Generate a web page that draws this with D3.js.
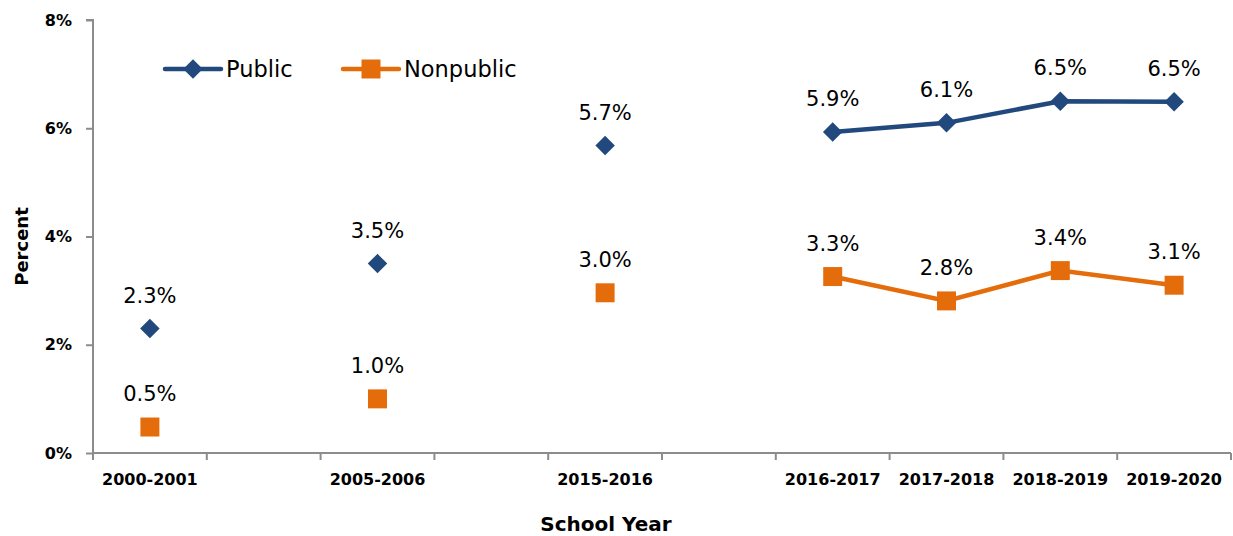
<!DOCTYPE html>
<meta charset="utf-8">
<script src="https://d3js.org/d3.v7.min.js"></script>
<style>
  body { margin: 0; background: #fff; }
  text { font-family: "DejaVu Sans", sans-serif; fill: #000; }
  .axis path, .axis line { stroke: #8c8c8c; stroke-width: 2px; }
  .axis text { font-weight: bold; font-size: 16px; }
  .lbl { font-size: 21px; }
</style>
<body>
<div id="my_dataviz"></div>
<script>
// school years, blank slots keep the gaps Excel left between the early years
var years = ["2000-2001", "", "2005-2006", "", "2015-2016", "", "2016-2017", "2017-2018", "2018-2019", "2019-2020"];
var publicVals    = [2.3, null, 3.5, null, 5.68, null, 5.93, 6.1, 6.5, 6.49];
var nonpublicVals = [0.48, null, 1.0, null, 2.96, null, 3.26, 2.81, 3.37, 3.1];
var yTicks = [0, 2, 4, 6, 8];

var W = 1233, H = 536;
var margin = {left: 93, right: 2, top: 20, bottom: 83};

var svg = d3.select("#my_dataviz").append("svg")
  .attr("width", W)
  .attr("height", H);

var x = d3.scaleBand()
  .domain(d3.range(years.length))
  .range([margin.left, W - margin.right]);

var y = d3.scaleLinear()
  .domain([0, 8])
  .range([H - margin.bottom, margin.top]);

// x axis: ticks sit on band boundaries, labels centred in band
var xg = svg.append("g").attr("class", "axis")
  .attr("transform", "translate(0," + y(0) + ")");
xg.append("line")
  .attr("x1", x.range()[0]).attr("x2", x.range()[1]);
xg.selectAll(".tk")
  .data(d3.range(years.length + 1))
  .enter().append("line")
  .attr("class", "tk")
  .attr("x1", i => x(0) + i * x.bandwidth())
  .attr("x2", i => x(0) + i * x.bandwidth())
  .attr("y1", 0).attr("y2", 7);
xg.selectAll("text")
  .data(years)
  .enter().append("text")
  .attr("x", (d, i) => x(i) + x.bandwidth() / 2)
  .attr("y", 32)
  .style("text-anchor", "middle")
  .text(d => d);

// y axis
var yAxis = d3.axisLeft(y)
  .tickValues(yTicks)
  .tickFormat(d => d + "%")
  .tickSize(7)
  .tickPadding(14);
svg.append("g").attr("class", "axis")
  .attr("transform", "translate(" + margin.left + ",0)")
  .call(yAxis)
  .call(g => g.select(".domain").attr("d", "M-7," + y(8) + "H0V" + y(0)));

svg.append("text")
  .attr("transform", "translate(28," + ((y(0) + y(8)) / 2 + 10) + ") rotate(-90)")
  .style("text-anchor", "middle")
  .style("font-weight", "bold")
  .style("font-size", "18px")
  .text("Percent");

svg.append("text")
  .attr("x", 606)
  .attr("y", 531)
  .style("text-anchor", "middle")
  .style("font-weight", "bold")
  .style("font-size", "20px")
  .text("School Year");

var cx = i => x(i) + x.bandwidth() / 2;
var line = d3.line()
  .defined(d => d != null)
  .x((d, i) => cx(i))
  .y(d => y(d));

// diamond = square turned 45 degrees
var series = [
  {name: "Public", values: publicVals, color: "#22497d", size: 190, rot: 45},
  {name: "Nonpublic", values: nonpublicVals, color: "#e46c0a", size: 360, rot: 0}
];

series.forEach(function(s) {
  svg.append("path")
    .datum(s.values)
    .attr("fill", "none")
    .attr("stroke", s.color)
    .attr("stroke-width", 4.5)
    .attr("d", line);

  var pts = s.values.map((v, i) => ({v: v, i: i})).filter(d => d.v != null);

  svg.selectAll(null)
    .data(pts)
    .enter().append("path")
    .attr("d", d3.symbol().type(d3.symbolSquare).size(s.size))
    .attr("transform", d => "translate(" + cx(d.i) + "," + y(d.v) + ") rotate(" + s.rot + ")")
    .attr("fill", s.color);

  svg.selectAll(null)
    .data(pts)
    .enter().append("text")
    .attr("class", "lbl")
    .attr("x", d => cx(d.i))
    .attr("y", d => y(d.v) - 26)
    .style("text-anchor", "middle")
    .text(d => d.v.toFixed(1) + "%");
});

// legend
var legX = [165, 343];
series.forEach(function(s, k) {
  var g = svg.append("g").attr("transform", "translate(" + legX[k] + ",69)");
  g.append("line")
    .attr("x1", 0).attr("x2", 56)
    .attr("stroke", s.color)
    .attr("stroke-width", 4.5)
    .attr("stroke-linecap", "round");
  g.append("path")
    .attr("d", d3.symbol().type(d3.symbolSquare).size(s.size))
    .attr("transform", "translate(28,0) rotate(" + s.rot + ")")
    .attr("fill", s.color);
  g.append("text")
    .attr("x", 61)
    .attr("y", 8)
    .style("font-size", "22.5px")
    .text(s.name);
});
</script>
</body>
